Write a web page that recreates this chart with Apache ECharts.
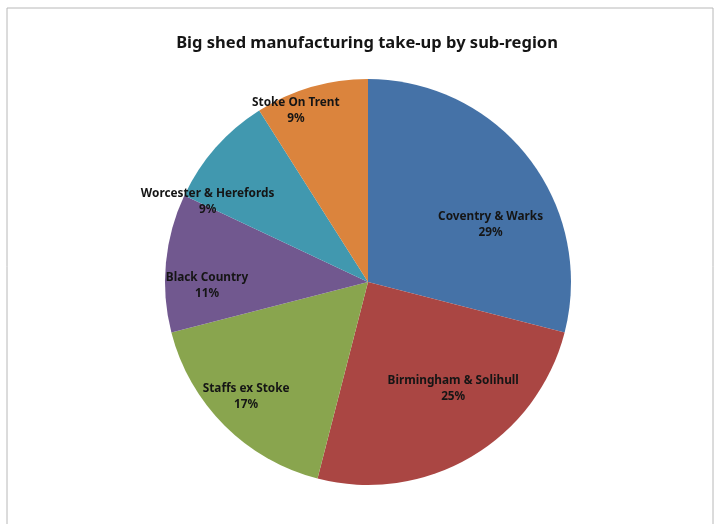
<!DOCTYPE html>
<html>
<head>
<meta charset="utf-8">
<script src="https://cdn.jsdelivr.net/npm/echarts@6/dist/echarts.min.js"></script>
<style>html,body{margin:0;padding:0;background:#fff;}#c{width:718px;height:524px;}</style>
</head>
<body>
<div id="c"></div>
<script>
const categories = ['Coventry & Warks', 'Birmingham & Solihull', 'Staffs ex Stoke', 'Black Country', 'Worcester & Herefords', 'Stoke On Trent'];
const values = [29, 25, 17, 11, 9, 9];
const colors = ['#4572A7', '#AA4643', '#89A54E', '#71588F', '#4198AF', '#DB843D'];
const labelShift = [[40, 7], [32, 17], [-48, 41], [-57, 13], [-82, -11], [-43, -71]];

const chart = echarts.init(document.getElementById('c'), null, {renderer: 'canvas'});
chart.setOption({
  animation: false,
  backgroundColor: '#fff',
  title: {
    text: 'Big shed manufacturing take-up by sub-region',
    left: 362, top: 30, textAlign: 'center',
    textStyle: {fontFamily: 'Noto Sans', fontWeight: 'bold', fontSize: 16.5, color: '#151515'}
  },
  graphic: [{
    type: 'rect', shape: {x: 7, y: 8, width: 706, height: 540},
    style: {fill: 'none', stroke: '#b8b8b8', lineWidth: 1}, silent: true
  }],
  series: [{
    type: 'pie',
    center: [368, 282],
    radius: 203,
    startAngle: 90,
    clockwise: true,
    label: {
      show: true, position: 'inside',
      formatter: p => p.name + '\n' + p.value + '%',
      fontFamily: 'Noto Sans', fontWeight: 'bold', fontSize: 11.8, color: '#151515', lineHeight: 16
    },
    labelLayout: p => ({dx: labelShift[p.dataIndex][0], dy: labelShift[p.dataIndex][1]}),
    itemStyle: {borderWidth: 0},
    emphasis: {disabled: true},
    data: categories.map((n, i) => ({name: n, value: values[i], itemStyle: {color: colors[i]}}))
  }]
});
</script>
</body>
</html>
